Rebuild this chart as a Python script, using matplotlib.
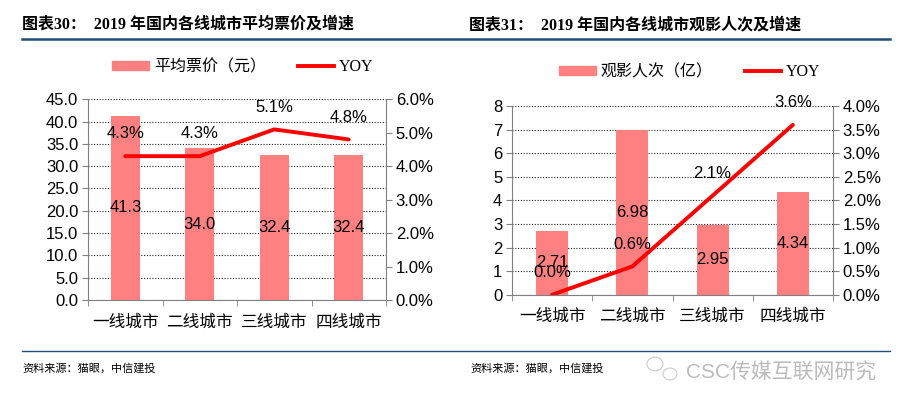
import matplotlib
matplotlib.use("Agg")
import matplotlib.pyplot as plt
import numpy as np
from matplotlib.ticker import FixedLocator, FuncFormatter
from matplotlib.patches import Patch, Ellipse
from matplotlib.lines import Line2D

plt.rcParams['font.family'] = ['Liberation Sans', 'Noto Sans CJK SC', 'DejaVu Sans']

# data
cities = ['一线城市', '二线城市', '三线城市', '四线城市']
price = [41.3, 34.0, 32.4, 32.4]
price_yoy = [4.3, 4.3, 5.1, 4.8]
viewers = [2.71, 6.98, 2.95, 4.34]
viewers_yoy = [0.0, 0.6, 2.1, 3.6]

bar_color = '#FF8080'
line_color = '#FF0000'
W, H = 909, 411

fig = plt.figure(figsize=(W / 100, H / 100), dpi=100)


def px_axes(x0, y_top, x1, y_bot):
    return fig.add_axes([x0 / W, 1 - y_bot / H, (x1 - x0) / W, (y_bot - y_top) / H])


def draw_panel(ax, bars, yoy, ymax, ystep, fmt, pmax, pstep, bar_w, label_fmt):
    x = np.arange(len(cities))
    ax.bar(x, bars, width=bar_w, color=bar_color, zorder=2)
    ax.set_xlim(-0.5, len(cities) - 0.5)
    ax.set_ylim(0, ymax)
    ax.set_yticks(np.arange(0, ymax + ystep / 2, ystep))
    ax.yaxis.set_major_formatter(FuncFormatter(lambda v, p: fmt.format(v)))
    ax.grid(axis='y', color='#222222', linestyle=(0, (1, 1.5)), linewidth=0.8, zorder=0)
    ax.set_xticks(x)
    ax.set_xticklabels(cities, fontsize=12)
    ax.tick_params(axis='x', length=0, pad=10)
    ax.xaxis.set_minor_locator(FixedLocator(np.arange(-0.5, len(cities), 1)))
    ax.tick_params(axis='x', which='minor', length=4, color='#808080')
    ax.tick_params(axis='y', length=4, color='#808080', labelsize=12, pad=3)
    for s in ['top', 'right']:
        ax.spines[s].set_visible(False)
    for s in ['left', 'bottom']:
        ax.spines[s].set_color('#808080')
    for xi, v in zip(x, bars):
        ax.text(xi, v / 2, label_fmt.format(v), ha='center', va='center', fontsize=12, zorder=5)

    ax2 = ax.twinx()
    ax2.plot(x, yoy, color=line_color, linewidth=2.8, solid_capstyle='round', zorder=3)
    ax2.set_ylim(0, pmax)
    ax2.set_yticks(np.arange(0, pmax + pstep / 2, pstep))
    ax2.yaxis.set_major_formatter(FuncFormatter(lambda v, p: '{:.1f}%'.format(v)))
    ax2.tick_params(axis='y', length=4, color='#808080', labelsize=12, pad=3)
    for s in ['top', 'left', 'bottom']:
        ax2.spines[s].set_visible(False)
    ax2.spines['right'].set_color('#808080')
    for xi, v in zip(x, yoy):
        ax2.annotate('{:.1f}%'.format(v), (xi, v), xytext=(0, 16), textcoords='offset points',
                     ha='center', va='center', fontsize=12, zorder=5)
    return ax2


# left panel
axL = px_axes(88, 99.3, 386, 300)
draw_panel(axL, price, price_yoy, 45, 5, '{:.1f}', 6, 1, 0.39, '{:.1f}')
# right panel
axR = px_axes(512, 106, 833, 294.7)
draw_panel(axR, viewers, viewers_yoy, 8, 1, '{:.0f}', 4, 0.5, 0.40, '{:.2f}')

# legends
for cx, cy, name in [(243, 67, '平均票价（元）'), (690, 72, '观影人次（亿）')]:
    handles = [Patch(color=bar_color), Line2D([], [], color=line_color, linewidth=2.8)]
    fig.legend(handles, [name, 'YOY'], loc='center', bbox_to_anchor=(cx / W, 1 - cy / H),
               ncol=2, frameon=False, handlelength=2.3, handleheight=0.5,
               columnspacing=2.0, handletextpad=0.3,
               prop={'family': ['Liberation Serif', 'Noto Sans CJK SC'], 'size': 11.5})

# titles
title_font = ['Liberation Serif', 'Noto Sans CJK SC']
fig.text(22 / W, 1 - 25 / H, '图表30：  2019 年国内各线城市平均票价及增速', fontsize=11.5,
         fontweight='bold', family=title_font, va='center', ha='left')
fig.text(469 / W, 1 - 25 / H, '图表31：  2019 年国内各线城市观影人次及增速', fontsize=11.5,
         fontweight='bold', family=title_font, va='center', ha='left')
fig.add_artist(Line2D([22 / W, 890 / W], [1 - 39 / H, 1 - 39 / H], color='#1F4E79', linewidth=1.8))
fig.add_artist(Line2D([22 / W, 890 / W], [1 - 351 / H, 1 - 351 / H], color='#1F4E79', linewidth=1.0))

# footer
for fx in [22, 470]:
    fig.text(fx / W, 1 - 368 / H, '资料来源：猫眼，中信建投', fontsize=8, style='italic',
             family=['Noto Sans CJK SC'], va='center', ha='left')
fig.text(686 / W, 1 - 372 / H, 'CSC传媒互联网研究', fontsize=15, color='#BBBBBB',
         family=['Liberation Sans', 'Noto Sans CJK SC'], va='center', ha='left')
for (ex, ey, r) in [(655, 364, 8), (670, 374, 7)]:
    fig.add_artist(Ellipse((ex / W, 1 - ey / H), 2 * r / W, 1.7 * r / H,
                           fill=False, edgecolor='#CCCCCC', linewidth=0.8))

fig.savefig('out.png', dpi=100)
